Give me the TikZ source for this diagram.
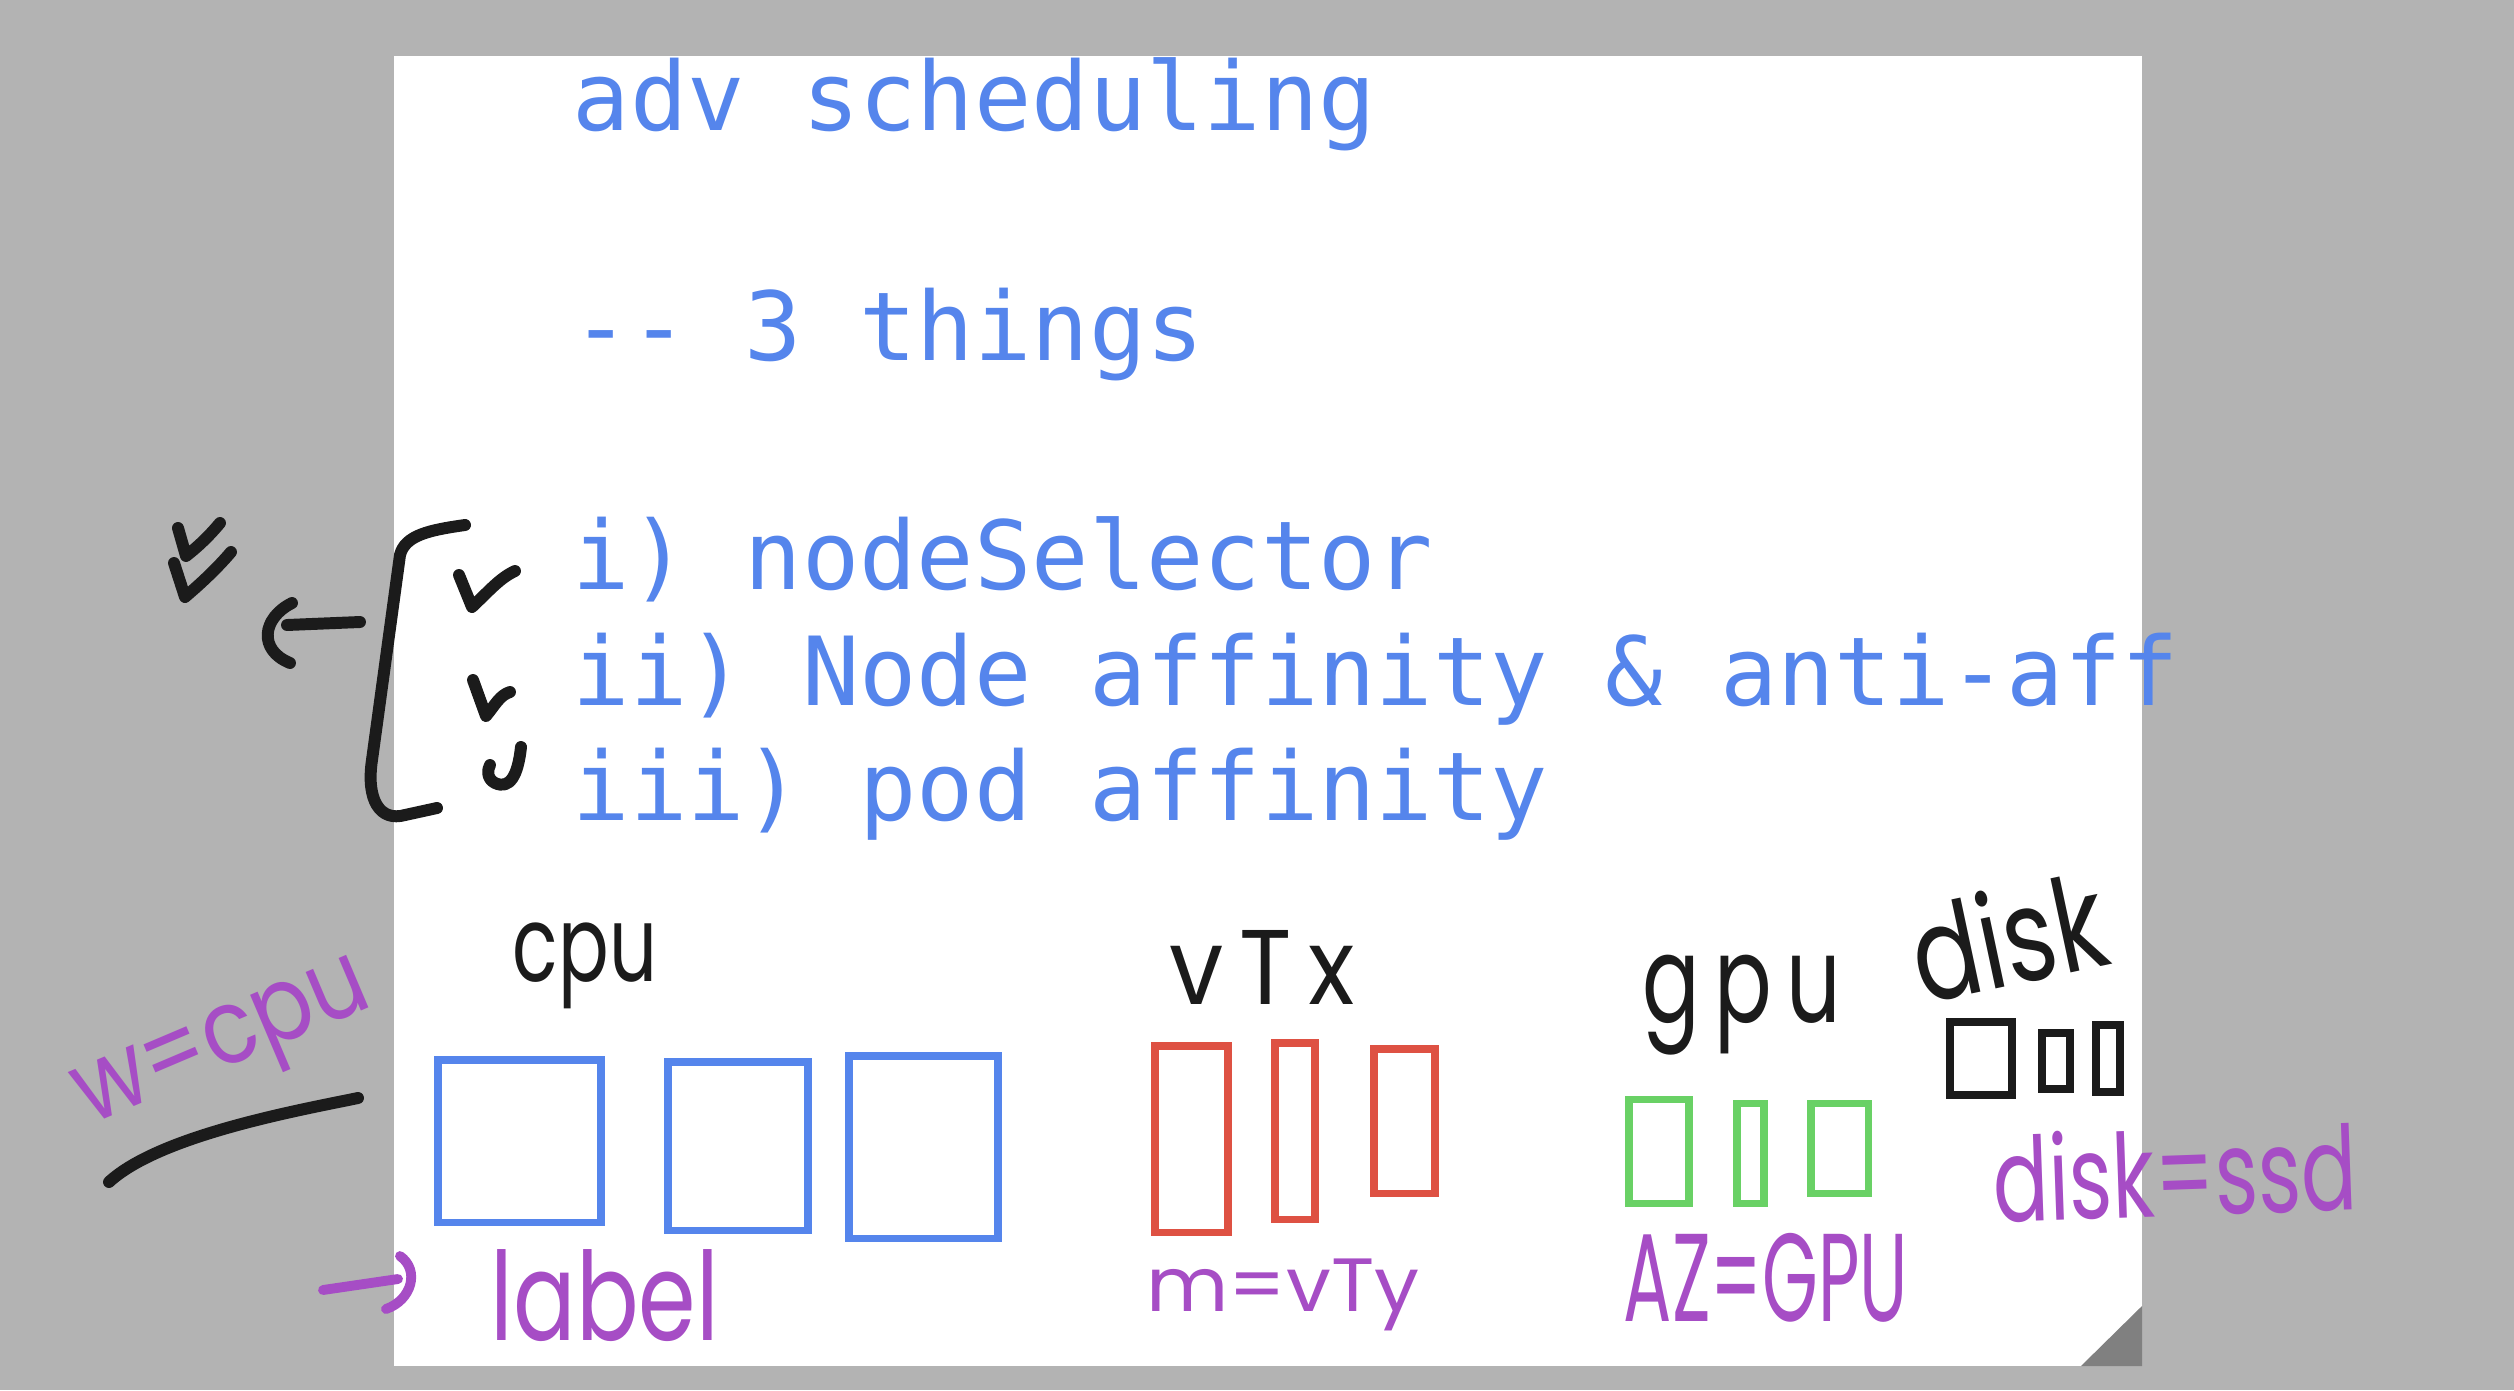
\documentclass[tikz,border=0pt]{standalone}
\usepackage{fontspec}
\usepackage{graphicx}
\setmonofont{DejaVu Sans Mono}
\newfontfamily\handfont{Poppins}
\definecolor{bggray}{RGB}{179,179,179}
\definecolor{cornergray}{RGB}{128,128,128}
\definecolor{myblue}{RGB}{85,133,236}
\definecolor{myred}{RGB}{222,81,67}
\definecolor{mygreen}{RGB}{105,209,101}
\definecolor{mypurple}{RGB}{166,77,197}
\definecolor{ink}{RGB}{27,27,27}
\newcommand\hw[3]{\resizebox*{#1}{#2}{\handfont #3}}
\tikzset{
  mono/.style={anchor=base west, inner sep=0pt, text=myblue, font=\ttfamily\fontsize{27.1}{30}\selectfont},
  hand/.style={inner sep=0pt},
  inkstroke/.style={draw=ink, line width=3.4pt, line cap=round, line join=round},
  purplestroke/.style={draw=mypurple, line width=2.8pt, line cap=round, line join=round},
  bluebox/.style={draw=myblue, line width=2pt},
  redbox/.style={draw=myred, line width=2pt},
  greenbox/.style={draw=mygreen, line width=2pt},
  blackbox/.style={draw=ink, line width=2.4pt}
}
\begin{document}
\begin{tikzpicture}[x=0.01cm,y=-0.01cm]
\useasboundingbox (0,0) rectangle (2514,1390);
\fill[bggray] (0,0) rectangle (2514,1390);
\fill[white] (394,56) rectangle (2142,1366);
\fill[cornergray] (2081,1366) -- (2142,1306) -- (2142,1366) -- cycle;

% typed text
\node[mono] (t1) at (572,130) {adv scheduling};
\node[mono] (t2) at (572,360) {-\kern0pt- 3 things};
\node[mono] (t3) at (572,589) {i) nodeSelector};
\node[mono] (t4) at (572,705) {ii) Node affinity \& anti-aff};
\node[mono] (t5) at (572,820) {iii) pod affinity};

% bracket
\draw[inkstroke] (465,525) .. controls (430,530) and (405,535) .. (400,555) -- (372,760) .. controls (366,800) and (380,822) .. (405,815) -- (437,808);
% arrow with hook
\draw[inkstroke] (360,622) -- (287,625);
\draw[inkstroke] (292,603) .. controls (262,618) and (258,650) .. (290,663);
% check marks
\draw[inkstroke] (459,575) -- (472,607) .. controls (490,590) and (500,578) .. (515,571);
\draw[inkstroke] (473,680) -- (486,716) .. controls (495,705) and (500,695) .. (510,692);
\draw[inkstroke] (521,747) .. controls (518,775) and (510,790) .. (495,783) .. controls (487,779) and (487,770) .. (490,765);
% double checks on the left
\draw[inkstroke] (178,528) -- (186,556) .. controls (200,545) and (210,535) .. (220,523);
\draw[inkstroke] (174,563) -- (185,597) .. controls (205,580) and (220,565) .. (231,552);
% underline
\draw[inkstroke] (109,1182) .. controls (160,1135) and (300,1110) .. (358,1098);

% purple arrow
\draw[purplestroke] (323,1290) -- (398,1279);
\draw[purplestroke] (400,1256) .. controls (420,1270) and (412,1300) .. (386,1309);

% boxes
\draw[bluebox] (438,1060) rectangle (601,1222);
\draw[bluebox] (668,1062) rectangle (808,1230);
\draw[bluebox] (849,1056) rectangle (998,1238);
\draw[redbox] (1155,1046) rectangle (1228,1232);
\draw[redbox] (1275,1043) rectangle (1315,1219);
\draw[redbox] (1374,1049) rectangle (1435,1193);
\draw[greenbox] (1629,1099) rectangle (1689,1203);
\draw[greenbox] (1737,1103) rectangle (1764,1203);
\draw[greenbox] (1811,1103) rectangle (1868,1193);
\draw[blackbox] (1950,1022) rectangle (2012,1095);
\draw[blackbox] (2042,1033) rectangle (2070,1089);
\draw[blackbox] (2096,1025) rectangle (2120,1092);

% handwritten labels
\node[hand, text=ink] (cpu) at (585,966) {\hw{1.44cm}{0.86cm}{cpu}};
\node[hand, text=ink] (vtx) at (1262,967) {\hw{1.85cm}{0.74cm}{v\,T\,x}};
\node[hand, text=ink] (gpu) at (1742,1005) {\hw{1.98cm}{1.0cm}{g\,p\,u}};
\node[hand, text=ink, rotate=12] (disk) at (2008,936) {\hw{1.95cm}{1.0cm}{disk}};
\node[hand, text=mypurple, rotate=23] (wcpu) at (226,1051) {\hw{3.1cm}{0.85cm}{w=cpu}};
\node[hand, text=mypurple] (label) at (605,1296) {\hw{2.28cm}{0.92cm}{label}};
\node[hand, text=mypurple] (mvty) at (1283,1295) {\hw{2.73cm}{0.72cm}{m=vTy}};
\node[hand, text=mypurple] (azgpu) at (1766,1278) {\hw{2.84cm}{0.89cm}{AZ=GPU}};
\node[hand, text=mypurple, rotate=2] (diskssd) at (2175,1172) {\hw{3.64cm}{0.9cm}{disk=ssd}};
\end{tikzpicture}
\end{document}
